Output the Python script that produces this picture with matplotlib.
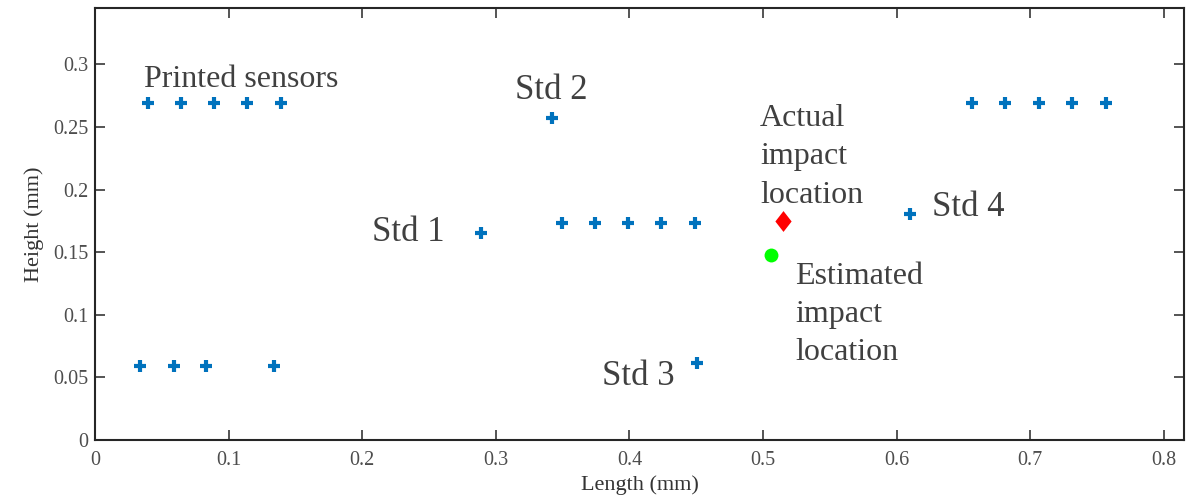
import matplotlib
matplotlib.use("Agg")
import matplotlib.pyplot as plt
from matplotlib.path import Path

# sensor positions (mm)
sensor_x = [0.040, 0.064, 0.089, 0.114, 0.139,
            0.0335, 0.059, 0.083, 0.134,
            0.3496, 0.3743, 0.399, 0.4237, 0.4491,
            0.6562, 0.6814, 0.7068, 0.731, 0.7565]
sensor_y = [0.269, 0.269, 0.269, 0.269, 0.269,
            0.059, 0.059, 0.059, 0.059,
            0.1733, 0.1733, 0.1733, 0.1733, 0.1733,
            0.269, 0.269, 0.269, 0.269, 0.269]

# standard sensors
std_names = ["Std 1", "Std 2", "Std 3", "Std 4"]
std_x = [0.2887, 0.3423, 0.4504, 0.610]
std_y = [0.1651, 0.2574, 0.0617, 0.1803]

actual_xy = (0.5147, 0.1752)
estimated_xy = (0.506, 0.1478)

x_ticks = [0, 0.1, 0.2, 0.3, 0.4, 0.5, 0.6, 0.7, 0.8]
y_ticks = [0, 0.05, 0.1, 0.15, 0.2, 0.25, 0.3]

blue = "#0072BD"
txt = "#404040"

plt.rcParams["font.family"] = ["Liberation Serif", "DejaVu Serif"]

fig = plt.figure(figsize=(12.04, 5.0), dpi=100)
ax = fig.add_axes([95 / 1204, 60 / 500, (1184 - 95) / 1204, (440 - 8) / 500])

diamond = Path([(0, 1), (0.78, 0), (0, -1), (-0.78, 0), (0, 1)],
               [Path.MOVETO, Path.LINETO, Path.LINETO, Path.LINETO, Path.CLOSEPOLY])

ax.plot(sensor_x, sensor_y, "+", color=blue, ms=9, mew=3, ls="none")
ax.plot(std_x, std_y, "+", color=blue, ms=9, mew=3, ls="none")
ax.plot(*actual_xy, marker=diamond, color="#FF0000", ms=15, mec="none", ls="none")
ax.plot(*estimated_xy, "o", color="#00FF00", ms=10, mec="none")

ax.text(0.0369, 0.2822, "Printed sensors", fontsize=23, color=txt, va="baseline")
std_text_pos = [(0.2071, 0.1592), (0.3144, 0.2724), (0.3793, 0.0439), (0.6262, 0.1789)]
for name, (tx, ty) in zip(std_names, std_text_pos):
    ax.text(tx, ty, name, fontsize=25, color=txt, va="baseline")
# baseline of the last line is used for multi-line text
ax.text(0.4978, 0.1895, "Actual\nimpact\nlocation", fontsize=23, color=txt,
        va="baseline", linespacing=1.42)
ax.text(0.524, 0.0639, "Estimated\nimpact\nlocation", fontsize=23, color=txt,
        va="baseline", linespacing=1.42)

ax.set_xlim(0, 0.815)
ax.set_ylim(0, 0.345)
ax.set_xticks(x_ticks)
ax.set_xticklabels([f"{v:g}" for v in x_ticks])
ax.set_yticks(y_ticks)
ax.set_yticklabels([f"{v:g}" for v in y_ticks])
ax.tick_params(direction="in", length=7, width=1.1, top=True, right=True,
               labelsize=14.5, labelcolor="#4d4d4d", color="#262626")
ax.tick_params(axis="x", pad=8)
ax.tick_params(axis="y", pad=5)
for s in ax.spines.values():
    s.set_linewidth(1.5)
    s.set_color("#262626")

ax.set_xlabel("Length (mm)", fontsize=16, color="#333333", labelpad=4)
ax.set_ylabel("Height (mm)", fontsize=16, color="#333333", labelpad=6)

fig.savefig("out.png", dpi=100)
